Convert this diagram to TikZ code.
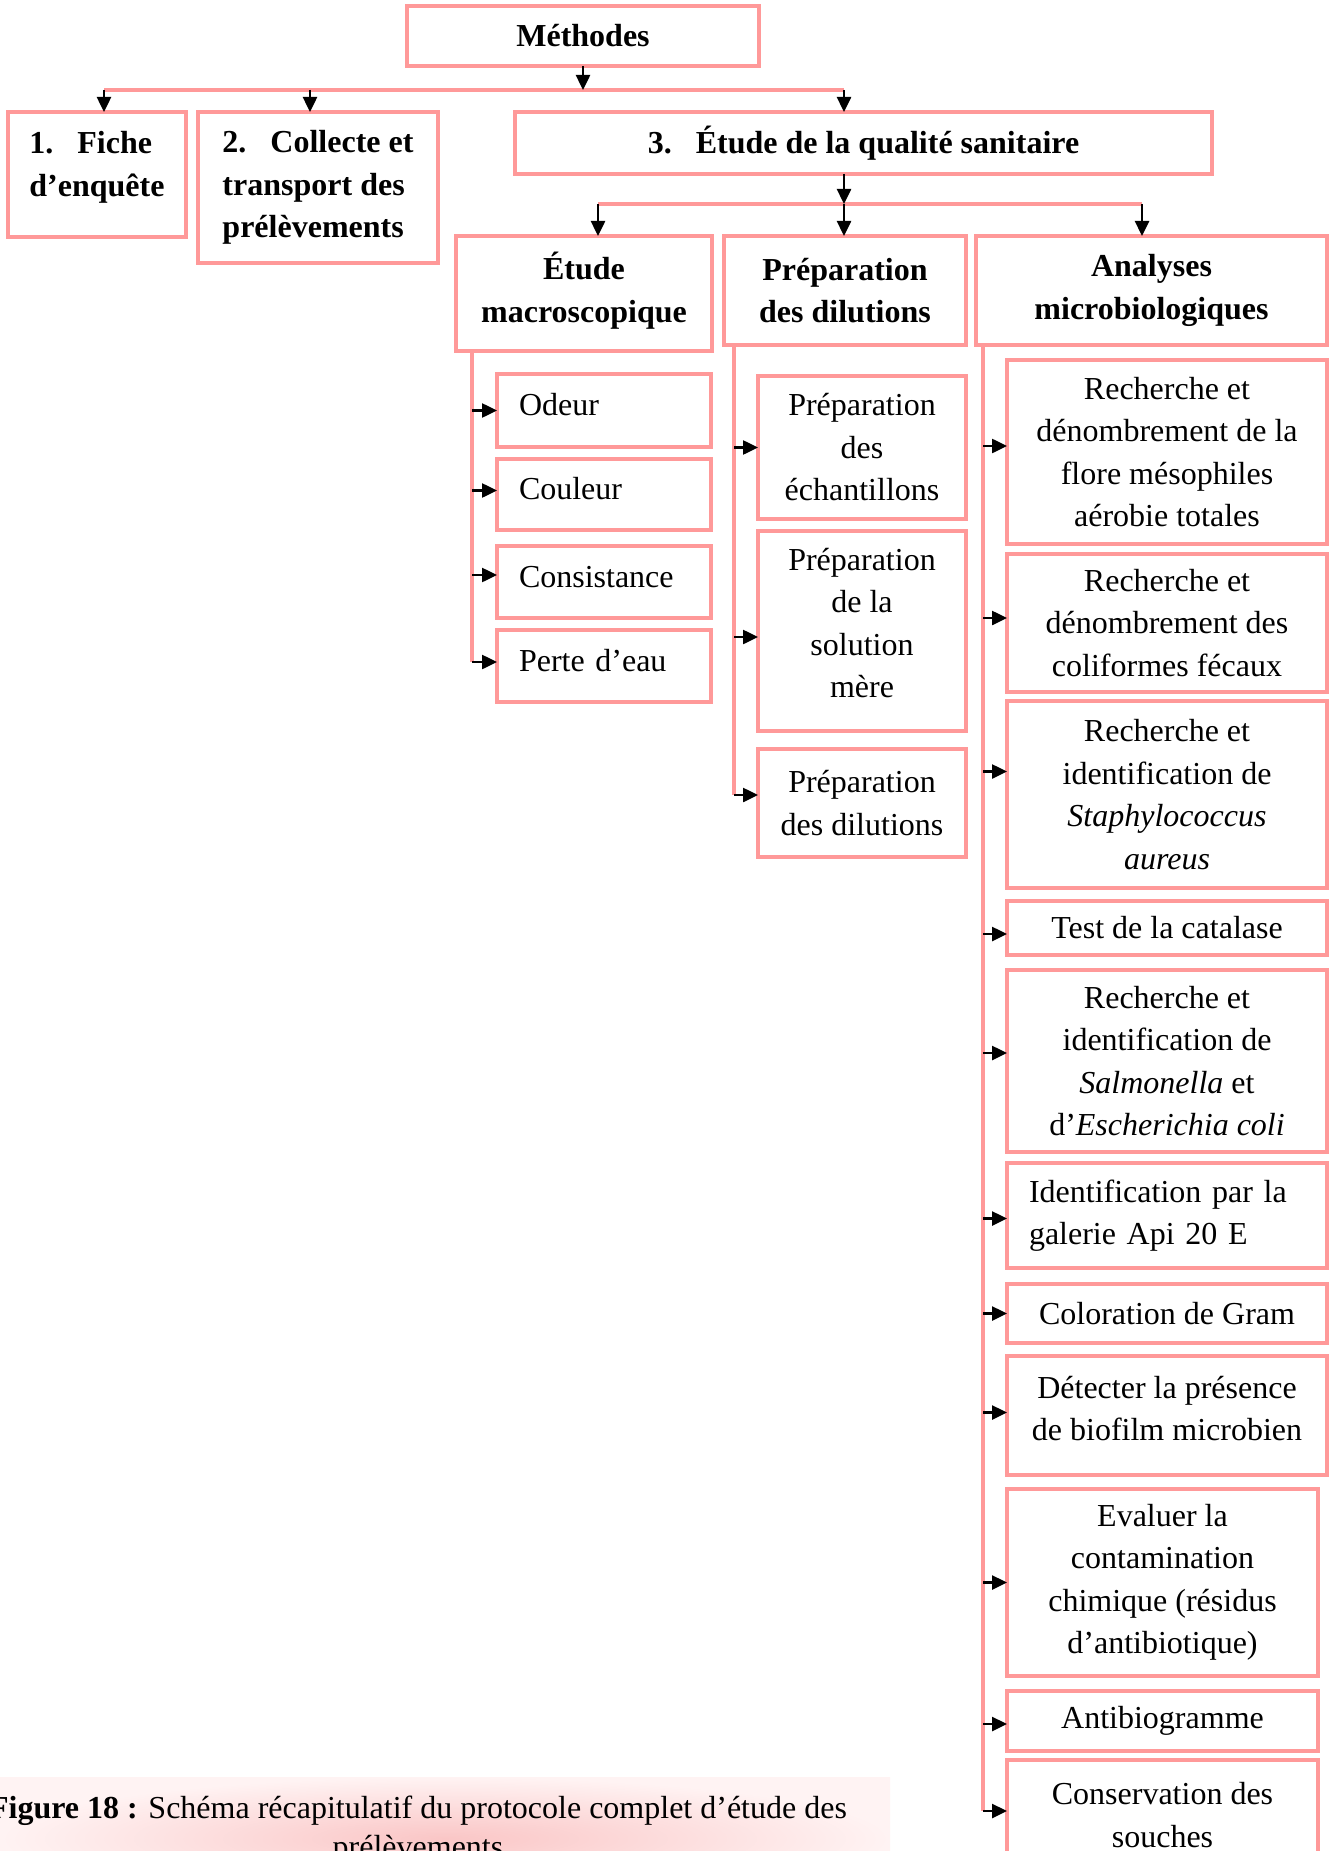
\documentclass[tikz,border=0pt]{standalone}
\usepackage{fontspec}
\setmainfont{Liberation Serif}
\usetikzlibrary{arrows.meta,positioning}
\definecolor{boxpink}{RGB}{255,153,153}
\definecolor{capcentre}{RGB}{250,198,198}
\definecolor{capedge}{RGB}{255,243,243}

\begin{document}
\begin{tikzpicture}[x=1pt,y=-1pt,
    box/.style={draw=boxpink, line width=4.5pt, inner sep=0pt, outer sep=0pt,
      anchor=north west, align=center, font=\fontsize{32}{42.5}\selectfont},
    titre/.style={box, font=\fontsize{32}{42.5}\selectfont\bfseries},
    gauche/.style={box, align=left, inner xsep=22pt, text width=#1},
    bus/.style={draw=boxpink, line width=4pt},
    fleche/.style={-{Triangle[length=15pt,width=14pt]}, line width=2.5pt}]
		\useasboundingbox (0,0) rectangle (1329,1851);
		\clip (0,0) rectangle (1329,1851);
		
		% top
		\node[titre, minimum width=352pt, minimum height=60pt] (methodes) at (407,6) {Méthodes};
		\node[titre, align=left, minimum width=178pt, minimum height=125pt, text depth=21pt] (fiche) at (8,112) {1.\hspace{24pt}Fiche\\d'enquête};
		\node[titre, align=left, minimum width=240pt, minimum height=151pt] (collecte) at (198,112) {2.\hspace{24pt}Collecte et\\transport des\\prélèvements};
		\node[titre, minimum width=697pt, minimum height=62pt] (qualite) at (515,112) {3.\hspace{24pt}Étude de la qualité sanitaire};
		
		% second level
		\node[titre, minimum width=256pt, minimum height=115pt, text depth=12pt] (macro) at (456,236) {Étude\\macroscopique};
		\node[titre, minimum width=242pt, minimum height=109pt] (prepa) at (724,236) {Préparation\\des dilutions};
		\node[titre, minimum width=351pt, minimum height=109pt] (analyses) at (976,236) {Analyses\\microbiologiques};
		
		% macroscopique
		\node[gauche=170pt, minimum height=73pt, text height=22pt, text depth=12pt] (odeur) at (497,374) {Odeur};
		\node[gauche=170pt, minimum height=71pt, text height=22pt, text depth=12pt, below=12pt of odeur] (couleur) {Couleur};
		\node[gauche=170pt, minimum height=72pt, text height=22pt, text depth=12pt, below=16pt of couleur] (consistance) {Consistance};
		\node[gauche=170pt, minimum height=72pt, text height=22pt, text depth=12pt, below=12pt of consistance] (perte) {Perte d'eau};
		
		% dilutions
		\node[box, minimum width=208pt, minimum height=143pt] (echant) at (758,376) {Préparation\\des\\échantillons};
		\node[box, minimum width=208pt, minimum height=200pt, text depth=16pt, below=12pt of echant] (mere) {Préparation\\de la\\solution\\mère};
		\node[box, minimum width=208pt, minimum height=108pt, below=18pt of mere] (dilutions) {Préparation\\des dilutions};
		
		% microbiologiques
		\node[box, minimum width=320pt, minimum height=184pt] (flore) at (1007,360) {Recherche et\\dénombrement de la\\flore mésophiles\\aérobie totales};
		\node[box, minimum width=320pt, minimum height=138pt, below=10pt of flore] (colif) {Recherche et\\dénombrement des\\coliformes fécaux};
		\node[box, minimum width=320pt, minimum height=187pt, below=9pt of colif] (staph) {Recherche et\\identification de\\\textit{Staphylococcus}\\\textit{aureus}};
		\node[box, minimum width=320pt, minimum height=54pt, below=13pt of staph] (catalase) {Test de la catalase};
		\node[box, minimum width=320pt, minimum height=182pt, below=15pt of catalase] (salmo) {Recherche et\\identification de\\\textit{Salmonella} et\\d'\textit{Escherichia coli}};
		\node[gauche=276pt, minimum height=105pt, below=11pt of salmo] (api) {Identification par la\\galerie Api 20 E};
		\node[box, minimum width=320pt, minimum height=59pt, below=16pt of api] (gram) {Coloration de Gram};
		\node[box, minimum width=320pt, minimum height=119pt, text depth=14pt, below=13pt of gram] (biofilm) {Détecter la présence\\de biofilm microbien};
		\node[box, minimum width=311pt, minimum height=187pt, below=14pt of biofilm.south west, anchor=north west] (evaluer) {Evaluer la\\contamination\\chimique (résidus\\d'antibiotique)};
		\node[box, minimum width=311pt, minimum height=60pt, below=15pt of evaluer] (antibio) {Antibiogramme};
		\node[box, minimum width=311pt, minimum height=110pt, below=9pt of antibio] (conserv) {Conservation des\\souches};
		
		% bus lines
		\coordinate (busA) at (104,90);
		\coordinate (busC) at (310,90);
		\coordinate (busB) at (844,90);
		\coordinate (busD) at (598,204);
		\coordinate (busE) at (1142,204);
		\coordinate (colA) at (472,0);
		\coordinate (colB) at (734,0);
		\coordinate (colC) at (983,0);
		
		\draw[bus] (busA) -- (busB);
		\draw[bus] (busD) -- (busE);
		\draw[bus] (colA |- macro.south) -- ([yshift=4pt]perte.west -| colA);
		\draw[bus] (colB |- prepa.south) -- ([yshift=8pt]dilutions.west -| colB);
		\draw[bus] (colC |- analyses.south) -- ([yshift=4pt]conserv.west -| colC);
		
		% arrows
		\draw[fleche] (methodes.south) -- (methodes.south |- busA);
		\draw[fleche] (busA) -- (busA |- fiche.north);
		\draw[fleche] (busC) -- (busC |- collecte.north);
		\draw[fleche] (busB) -- (busB |- qualite.north);
		\draw[fleche] (busB |- qualite.south) -- (busB |- busD);
		\draw[fleche] (busD) -- (busD |- macro.north);
		\draw[fleche] (busB |- busD) -- (busB |- prepa.north);
		\draw[fleche] (busE) -- (busE |- analyses.north);
		
		\foreach \n/\s in {odeur/0,couleur/4,consistance/7,perte/4}
		\draw[fleche] ([yshift=\s pt]\n.west -| colA) -- ([yshift=\s pt]\n.west);
		\foreach \n/\s in {echant/0,mere/-6,dilutions/8}
		\draw[fleche] ([yshift=\s pt]\n.west -| colB) -- ([yshift=\s pt]\n.west);
		\foreach \n/\s in {flore/6,colif/5,staph/23,catalase/-6,salmo/8,api/-3,gram/0,biofilm/3,evaluer/0,antibio/-3,conserv/4}
		\draw[fleche] ([yshift=\s pt]\n.west -| colC) -- ([yshift=\s pt]\n.west);
		
		% caption
		\shade[inner color=capcentre, outer color=capedge] (0,1777) rectangle (890,1900);
		\node[anchor=north, inner sep=0pt, align=center, font=\fontsize{32}{39}\selectfont] (legende) at (418,1796)
		{\textbf{Figure 18 :} Schéma récapitulatif du protocole complet d'étude des\\prélèvements};
\end{tikzpicture}
\end{document}
